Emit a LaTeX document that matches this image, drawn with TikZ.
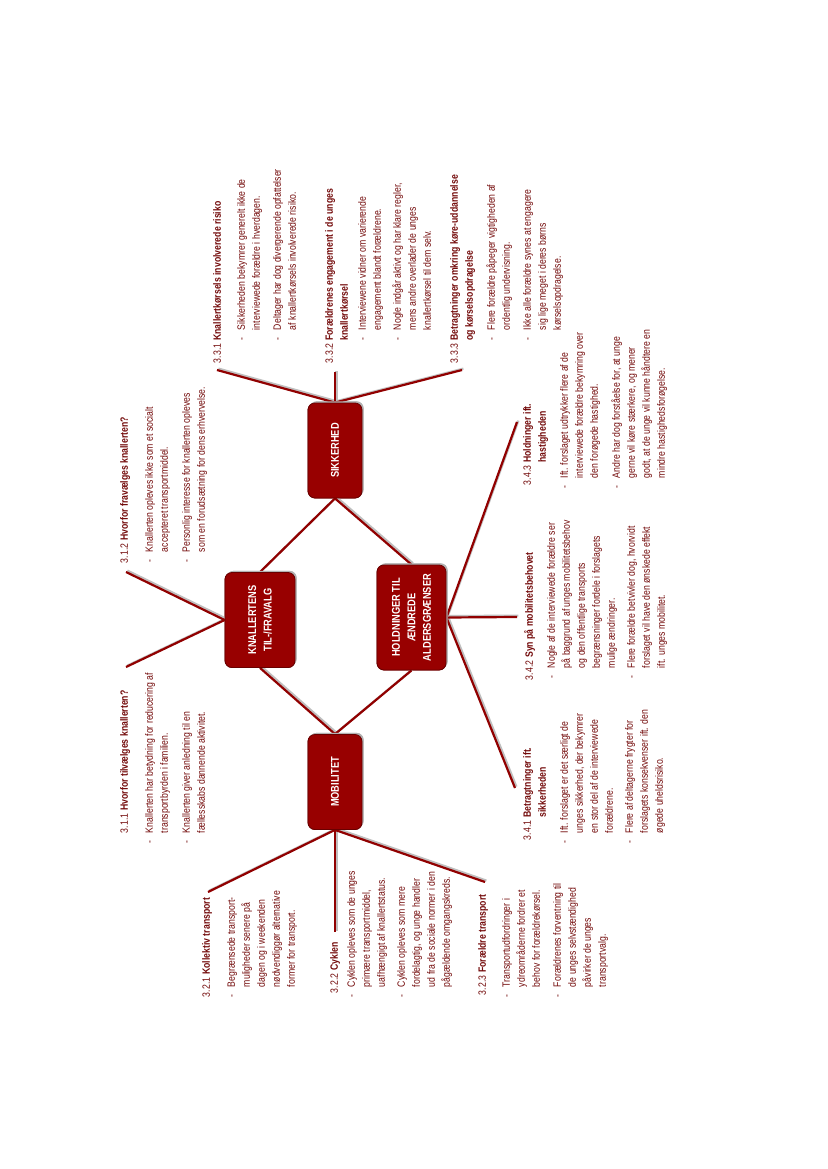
\documentclass[tikz,border=0pt]{standalone}
\usepackage{fontspec}
\usepackage{array}
\setmainfont{Liberation Sans}[FakeStretch=0.82]
\definecolor{boxred}{RGB}{152,0,0}
\definecolor{boxedge}{RGB}{105,0,0}
\definecolor{lred}{RGB}{145,0,0}
\definecolor{tred}{RGB}{115,10,10}
\newcommand\txtfont{\fontsize{10.6}{15}\selectfont}
\newcommand\boxfont{\fontsize{11.3}{15.5}\selectfont\bfseries}
\newcommand\bp[1]{\begin{tabular}{@{}l@{}l@{}}\makebox[10pt][l]{-}&#1\end{tabular}}
\newcommand\hp[1]{\begin{tabular}{@{}l@{\hspace{3pt}}>{\bfseries}l@{}}#1\end{tabular}}
\begin{document}
\begin{tikzpicture}[x=1pt,y=-1pt,
  txt/.style={rotate=90, anchor=north west, inner sep=0pt, outer sep=0pt, font=\txtfont, text=tred},
  box/.style={rotate=90, draw=boxedge, line width=0.8pt, fill=boxred, rounded corners=7pt, text=white, font=\boxfont, align=center, inner sep=2pt,
    preaction={fill=black!30, draw=none, transform canvas={shift={(1.6pt,1.6pt)}}}},
  conn/.style={draw=lred, line width=2.2pt,
    preaction={draw=black!25, line width=2.2pt, transform canvas={shift={(1.4pt,1.4pt)}}}}]
\fill[white] (0,0) rectangle (827,1169);
\useasboundingbox (0,0) rectangle (827,1169);

% end points of branch connectors
\coordinate (e311) at (126,667);
\coordinate (e312) at (126,572);
\coordinate (e321) at (208,892);
\coordinate (e322) at (335,932);
\coordinate (e323) at (485,882);
\coordinate (e331) at (217,370);
\coordinate (e332) at (335,372);
\coordinate (e333) at (462,370);
\coordinate (e341) at (515,788);
\coordinate (e342) at (517,617);
\coordinate (e343) at (517,422);

% boxes (placed first for anchors, redrawn on top)
\path (335,782) node[box, minimum width=95pt, minimum height=54pt] (mob) {MOBILITET};
\path (260,620) node[box, minimum width=95pt, minimum height=70pt] (kna) {KNALLERTENS\\TIL-/FRAVALG};
\path (335,450.5) node[box, minimum width=95pt, minimum height=54pt] (sik) {SIKKERHED};
\path (411.5,617.5) node[box, minimum width=105pt, minimum height=69pt] (hol) {HOLDNINGER TIL\\ÆNDREDE\\ALDERSGRÆNSER};

% connectors
\draw[conn] (kna.west) -- (mob.east);
\draw[conn] (kna.east) -- (sik.west);
\draw[conn] (sik.west) -- (hol.east);
\draw[conn] (hol.west) -- (mob.east);
\draw[conn] (kna.north) -- (e311);
\draw[conn] (kna.north) -- (e312);
\draw[conn] (mob.west) -- (e321);
\draw[conn] (mob.west) -- (e322);
\draw[conn] (mob.west) -- (e323);
\draw[conn] (sik.east) -- (e331);
\draw[conn] (sik.east) -- (e332);
\draw[conn] (sik.east) -- (e333);
\draw[conn] (hol.south) -- (e341);
\draw[conn] (hol.south) -- (e342);
\draw[conn] (hol.south) -- (e343);

% boxes on top
\node[box, minimum width=95pt, minimum height=54pt] (mob2) at (mob) {MOBILITET};
\node[box, minimum width=95pt, minimum height=70pt] (kna2) at (kna) {KNALLERTENS\\TIL-/FRAVALG};
\node[box, minimum width=95pt, minimum height=54pt] (sik2) at (sik) {SIKKERHED};
\node[box, minimum width=105pt, minimum height=69pt] (hol2) at (hol) {HOLDNINGER TIL\\ÆNDREDE\\ALDERSGRÆNSER};

% 3.1.1
\node[txt] (h311) at (117.3,833) {\hp{3.1.1&Hvorfor tilvælges knallerten?}};
\node[txt] (b311a) at (142.3,843) {\bp{Knallerten har betydning for reducering af\\&transportbyrden i familien.}};
\node[txt] (b311b) at (179.3,843) {\bp{Knallerten giver anledning til en\\&fællesskabs dannende aktivitet.}};
% 3.1.2
\node[txt] (h312) at (117.3,563) {\hp{3.1.2&Hvorfor fravælges knallerten?}};
\node[txt] (b312a) at (142.3,562) {\bp{Knallerten opleves ikke som et socialt\\&accepteret transportmiddel.}};
\node[txt] (b312b) at (179.3,562) {\bp{Personlig interesse for knallerten opleves\\&som en forudsætning for dens erhvervelse.}};
% 3.2.1
\node[txt] (h321) at (199.3,997) {\hp{3.2.1&Kollektiv transport}};
\node[txt] (b321a) at (224.3,997) {\bp{Begrænsede transport-\\&muligheder senere på\\&dagen og i weekenden\\&nødvendiggør alternative\\&former for transport.}};
% 3.2.2
\node[txt] (h322) at (327.3,993) {\hp{3.2.2&Cyklen}};
\node[txt] (b322a) at (344.3,997) {\bp{Cyklen opleves som de unges\\&primære transportmiddel,\\&uafhængigt af knallertstatus.}};
\node[txt] (b322b) at (394.3,997) {\bp{Cyklen opleves som mere\\&fordelagtig, og unge handler\\&ud fra de sociale normer i den\\&pågældende omgangskreds.}};
% 3.2.3
\node[txt] (h323) at (475.3,995) {\hp{3.2.3&Forældre transport}};
\node[txt] (b323a) at (499.3,997) {\bp{Transportudfordringer i\\&ydreområderne fordrer et\\&behov for forældrekørsel.}};
\node[txt] (b323b) at (550.3,997) {\bp{Forældrenes forventning til\\&de unges selvstændighed\\&påvirker de unges\\&transportvalg.}};
% 3.3.1
\node[txt] (h331) at (210.3,363) {\hp{3.3.1&Knallertkørsels involverede risiko}};
\node[txt] (b331a) at (234.3,340) {\bp{Sikkerheden bekymrer generelt ikke de\\&interviewede forældre i hverdagen.}};
\node[txt] (b331b) at (270.3,340) {\bp{Deltager har dog divergerende opfattelser\\&af knallertkørsels involverede risiko.}};
% 3.3.2
\node[txt] (h332) at (322.3,363) {\hp{3.3.2&Forældrenes engagement i de unges\\&knallertkørsel}};
\node[txt] (b332a) at (355.3,340) {\bp{Interviewene vidner om varierende\\&engagement blandt forældrene.}};
\node[txt] (b332b) at (390.3,340) {\bp{Nogle indgår aktivt og har klare regler,\\&mens andre overlader de unges\\&knallertkørsel til dem selv.}};
% 3.3.3
\node[txt] (h333) at (447.3,363) {\hp{3.3.3&Betragtninger omkring køre-uddannelse\\&og kørselsopdragelse}};
\node[txt] (b333a) at (484.3,340) {\bp{Flere forældre påpeger vigtigheden af\\&ordentlig undervisning.}};
\node[txt] (b333b) at (520.3,340) {\bp{Ikke alle forældre synes at engagere\\&sig lige meget i deres børns\\&kørselsopdragelse.}};
% 3.4.1
\node[txt] (h341) at (520.3,840) {\hp{3.4.1&Betragtninger ift.\\&sikkerheden}};
\node[txt] (b341a) at (557.3,843) {\bp{Ift. forslaget er det særligt de\\&unges sikkerhed, der bekymrer\\&en stor del af de interviewede\\&forældrene.}};
\node[txt] (b341b) at (622.3,843) {\bp{Flere af deltagerne frygter for\\&forslagets konsekvenser ift. den\\&øgede uheldsrisiko.}};
% 3.4.2
\node[txt] (h342) at (522.3,680) {\hp{3.4.2&Syn på mobilitetsbehovet}};
\node[txt] (b342a) at (544.3,678) {\bp{Nogle af de interviewede forældre ser\\&på baggrund af unges mobilitetsbehov\\&og den offentlige transports\\&begrænsninger fordele i forslagets\\&mulige ændringer.}};
\node[txt] (b342b) at (624.3,678) {\bp{Flere forældre betvivler dog, hvorvidt\\&forslaget vil have den ønskede effekt\\&ift. unges mobilitet.}};
% 3.4.3
\node[txt] (h343) at (520.3,485) {\hp{3.4.3&Holdninger ift.\\&hastigheden}};
\node[txt] (b343a) at (557.3,488) {\bp{Ift. forslaget udtrykker flere af de\\&interviewede forældre bekymring over\\&den forøgede hastighed.}};
\node[txt] (b343b) at (609.3,488) {\bp{Andre har dog forståelse for, at unge\\&gerne vil køre stærkere, og mener\\&godt, at de unge vil kunne håndtere en\\&mindre hastighedsforøgelse.}};
\end{tikzpicture}
\end{document}
